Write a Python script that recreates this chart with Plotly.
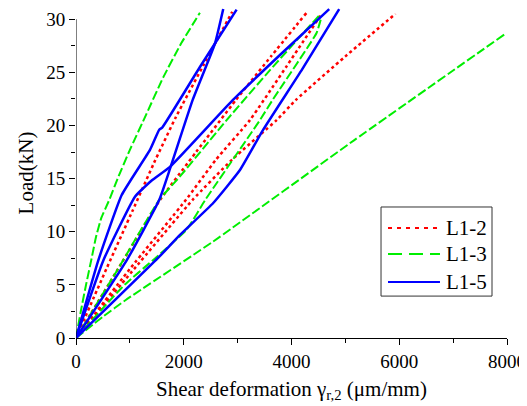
import plotly.graph_objects as go

# L1-2 (red dotted) curves: shear deformation (um/mm) and load (kN)
l12_x = [
    [0, 520, 1052, 1450, 1855, 2380, 2900],
    [0, 780, 1560, 2230, 2968, 3620, 4280],
    [0, 1000, 2041, 2600, 3228, 3900, 4560],
    [0, 1080, 2165, 2900, 3723, 4082, 5000, 5930],
]
l12_y = [
    [0, 6, 12, 16.5, 20.8, 25.8, 30.7],
    [0, 6.5, 13, 17.5, 22.4, 26.5, 30.6],
    [0, 6.5, 13, 16.8, 20.5, 25.5, 30.5],
    [0, 6.5, 13, 16.8, 20.5, 22.4, 26.5, 30.5],
]

# L1-3 (green dashed) curves
l13_x = [
    [0, 100, 186, 290, 371, 470, 618, 773, 1000, 1300, 1617, 1950, 2300],
    [0, 780, 1546, 1930, 2796, 3600, 4540],
    [0, 900, 1423, 2054, 2400, 3414, 3649, 4465, 4560],
    [0, 500, 930, 2540, 5160, 7990],
]
l13_y = [
    [0, 2.8, 5, 7.5, 9.5, 11.3, 13, 15, 17.7, 21, 24.5, 27.7, 30.6],
    [0, 6.5, 13, 15.2, 20.5, 25.2, 30.5],
    [0, 5, 7.3, 10.2, 13, 20.5, 22.4, 28.7, 30.3],
    [0, 2, 3.6, 9.06, 18.6, 28.7],
]

# L1-5 (blue solid) curves
l15_x = [
    [0, 414, 848, 1373, 1545, 1600, 2300, 2981],
    [0, 940, 1546, 1750, 2166, 2579, 2733],
    [0, 507, 1095, 1400, 1744, 2913, 3800, 4700],
    [0, 1546, 1930, 2547, 3043, 3475, 4200, 4885],
]
l15_y = [
    [0, 7.3, 13.45, 17.7, 19.6, 19.8, 25.5, 30.9],
    [0, 7.3, 13, 16, 22.4, 27.7, 30.95],
    [0, 7.3, 13.3, 14.8, 16.1, 22.4, 26.7, 30.95],
    [0, 7.65, 9.7, 12.7, 15.8, 19.6, 25.3, 30.95],
]

y_ticks = [0, 5, 10, 15, 20, 25, 30]
legend_names = ["L1-2", "L1-3", "L1-5"]

fig = go.Figure()

series = [
    (l12_x, l12_y, "#ff0000", "3px,3px", 2.5),
    (l13_x, l13_y, "#00ee00", "9px,3px", 2),
    (l15_x, l15_y, "#0000ff", "solid", 2.5),
]
for xs, ys, color, dash, width in series:
    for i in range(len(xs)):
        fig.add_trace(go.Scatter(
            x=xs[i], y=ys[i], mode="lines", showlegend=False, hoverinfo="skip",
            line=dict(color=color, dash=dash, width=width, shape="spline", smoothing=0.4),
        ))

# y axis line only up to 30, curves run a little above it
fig.add_shape(type="line", xref="x", yref="y", x0=0, x1=0, y0=0, y1=30,
              line=dict(color="black", width=1))

# boxed legend with long line samples, drawn by hand
fig.add_shape(type="rect", xref="paper", yref="paper", x0=0.7077, x1=0.9652, y0=0.127, y1=0.397,
              line=dict(color="#333333", width=1), fillcolor="white")
legend_y = [0.333, 0.2545, 0.1697]
legend_dash = ["4px,5px", "14px,7px", "solid"]
for (xs, ys, color, dash, width), name, ly, ld in zip(series, legend_names, legend_y, legend_dash):
    fig.add_shape(type="line", xref="paper", yref="paper", x0=0.7239, x1=0.8445, y0=ly, y1=ly,
                  line=dict(color=color, dash=ld, width=2))
    fig.add_annotation(x=0.8538, y=ly, xref="paper", yref="paper", text=name, showarrow=False,
                       xanchor="left", yanchor="middle", font=dict(size=21))

font = "Liberation Serif, Times New Roman, serif"
# page body has an 8px margin, so the figure is a bit smaller than the window
fig.update_layout(
    width=519, height=398,
    margin=dict(l=68, r=20, t=0, b=68),
    plot_bgcolor="white", paper_bgcolor="white",
    font=dict(family=font, size=19, color="black"),
    showlegend=False,
)
fig.update_xaxes(
    range=[0, 8000], tickvals=[0, 2000, 4000, 6000, 8000],
    showline=True, linecolor="black", linewidth=1,
    ticks="outside", ticklen=6, tickcolor="black", showgrid=False, zeroline=False,
    minor=dict(ticks="outside", dtick=1000, ticklen=4, tickcolor="black"),
    title=dict(text="Shear deformation γ<sub>r,2</sub> (μm/mm)", font=dict(size=21), standoff=10),
    automargin=False,
)
fig.update_yaxes(
    range=[0, 31.05], tickvals=y_ticks,
    showline=False,
    ticks="outside", ticklen=6, tickcolor="black", showgrid=False, zeroline=False,
    minor=dict(ticks="outside", tickvals=[2.5, 7.5, 12.5, 17.5, 22.5, 27.5], ticklen=4, tickcolor="black"),
    title=dict(text="Load(kN)", font=dict(size=21), standoff=6),
    automargin=False,
)

fig.write_html("out.html")
